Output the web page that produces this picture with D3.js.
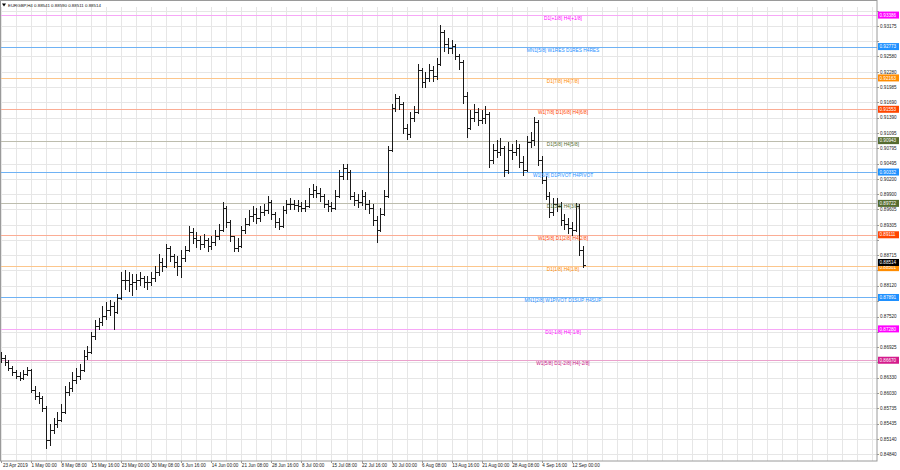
<!DOCTYPE html>
<html><head><meta charset="utf-8">
<script src="https://cdnjs.cloudflare.com/ajax/libs/d3/7.8.5/d3.min.js"></script>
<style>
html,body{margin:0;padding:0;background:#fff;}
svg{display:block;font-family:"Liberation Sans",Arial,sans-serif;}
</style></head>
<body><svg id="c" width="900" height="470"></svg>
<script>
// ---- data ----
const symbolTitle = "EURGBP,H4";
const lastOHLC = ["0.88541","0.88590","0.88511","0.88514"];
const firstOpen = 0.86750;
const closes = [0.86711,0.86634,0.86517,0.86439,0.86361,0.86322,0.86400,0.86478,0.86089,0.85972,
0.85933,0.85738,0.85116,0.85310,0.85427,0.85505,0.85661,0.86050,0.86128,0.86283,
0.86361,0.86478,0.86750,0.86828,0.87139,0.87334,0.87412,0.87529,0.87645,0.87723,
0.87607,0.87879,0.88229,0.88229,0.88151,0.88190,0.88229,0.88268,0.88190,0.88190,
0.88268,0.88385,0.88580,0.88502,0.88852,0.88696,0.88580,0.88502,0.88657,0.88813,
0.89163,0.89047,0.89008,0.88930,0.89008,0.88891,0.88969,0.89085,0.89202,0.89630,
0.89358,0.89085,0.88852,0.88891,0.89202,0.89319,0.89475,0.89514,0.89436,0.89553,
0.89591,0.89747,0.89514,0.89358,0.89280,0.89591,0.89708,0.89708,0.89689,0.89669,
0.89630,0.89669,0.89903,0.89981,0.89922,0.89864,0.89708,0.89669,0.89630,0.89864,
0.90253,0.90409,0.90331,0.89864,0.89786,0.89747,0.89864,0.89708,0.89630,0.89397,
0.89202,0.89514,0.89864,0.90759,0.91576,0.91771,0.91654,0.91187,0.91070,0.91382,
0.91499,0.92316,0.92082,0.92160,0.92316,0.92199,0.92433,0.93055,0.92822,0.92744,
0.92783,0.92588,0.92472,0.91810,0.91187,0.91382,0.91499,0.91343,0.91382,0.91460,
0.90564,0.90759,0.90720,0.90798,0.90370,0.90759,0.90720,0.90798,0.90526,0.90370,
0.90915,0.90954,0.91304,0.90564,0.90175,0.89864,0.89553,0.89708,0.89669,0.89397,
0.89319,0.89241,0.89202,0.89669,0.88813,0.88514];
const highs = [0.86828,0.86770,0.86672,0.86556,0.86478,0.86439,0.86478,0.86536,0.86497,0.86166,
0.86050,0.85972,0.85777,0.85427,0.85544,0.85661,0.85816,0.86166,0.86244,0.86439,
0.86517,0.86595,0.86867,0.86945,0.87217,0.87451,0.87490,0.87723,0.87801,0.87840,
0.87801,0.87957,0.88385,0.88424,0.88385,0.88346,0.88346,0.88385,0.88307,0.88307,
0.88385,0.88502,0.88735,0.88657,0.88930,0.88891,0.88735,0.88696,0.88813,0.88891,
0.89280,0.89241,0.89163,0.89085,0.89124,0.89047,0.89085,0.89202,0.89319,0.89747,
0.89669,0.89397,0.89085,0.89047,0.89280,0.89436,0.89591,0.89669,0.89630,0.89669,
0.89708,0.89864,0.89786,0.89553,0.89436,0.89669,0.89786,0.89825,0.89786,0.89786,
0.89747,0.89786,0.90020,0.90097,0.90058,0.90020,0.89903,0.89786,0.89747,0.89981,
0.90370,0.90487,0.90487,0.90370,0.89942,0.89903,0.89981,0.89942,0.89786,0.89708,
0.89475,0.89630,0.89981,0.90837,0.91654,0.91849,0.91810,0.91693,0.91265,0.91499,
0.91615,0.92433,0.92355,0.92277,0.92433,0.92394,0.92549,0.93192,0.93094,0.92939,
0.92900,0.92822,0.92627,0.92510,0.91888,0.91537,0.91654,0.91576,0.91537,0.91615,
0.91499,0.90876,0.90954,0.90993,0.90837,0.90915,0.90876,0.90954,0.90876,0.90642,
0.91031,0.91109,0.91401,0.91343,0.90642,0.90253,0.89942,0.89825,0.89825,0.89747,
0.89514,0.89436,0.89358,0.89728,0.89708,0.88891];
const lows = [0.86614,0.86556,0.86458,0.86361,0.86303,0.86264,0.86283,0.86361,0.86030,0.85894,
0.85816,0.85661,0.84941,0.84999,0.85232,0.85349,0.85466,0.85622,0.85972,0.86050,
0.86205,0.86283,0.86439,0.86672,0.86789,0.87062,0.87256,0.87334,0.87451,0.87529,
0.87256,0.87568,0.87840,0.88035,0.87996,0.87918,0.88035,0.88112,0.88074,0.88035,
0.88112,0.88190,0.88307,0.88385,0.88463,0.88580,0.88463,0.88307,0.88268,0.88580,
0.88774,0.88930,0.88852,0.88813,0.88852,0.88774,0.88813,0.88891,0.89008,0.89163,
0.89241,0.88969,0.88774,0.88774,0.88852,0.89124,0.89280,0.89358,0.89319,0.89358,
0.89475,0.89514,0.89397,0.89241,0.89202,0.89241,0.89514,0.89591,0.89591,0.89553,
0.89553,0.89553,0.89630,0.89825,0.89825,0.89747,0.89630,0.89553,0.89553,0.89591,
0.89825,0.90175,0.90175,0.89786,0.89669,0.89630,0.89669,0.89591,0.89514,0.89280,
0.88949,0.89163,0.89475,0.89825,0.90720,0.91499,0.91537,0.91070,0.90954,0.90993,
0.91304,0.91460,0.91966,0.91966,0.92082,0.92082,0.92121,0.92394,0.92666,0.92627,
0.92627,0.92510,0.92316,0.91654,0.90993,0.91148,0.91304,0.91226,0.91265,0.91265,
0.90409,0.90487,0.90603,0.90642,0.90234,0.90292,0.90564,0.90642,0.90409,0.90253,
0.90331,0.90798,0.90837,0.90448,0.90097,0.89786,0.89436,0.89475,0.89553,0.89280,
0.89202,0.89124,0.89085,0.89163,0.88696,0.88463];

const priceTicks = ["0.93475","0.93175","0.92875","0.92580","0.92280","0.91985","0.91690","0.91390",
"0.91095","0.90795","0.90495","0.90200","0.89900","0.89605","0.89305","0.89010","0.88715","0.88420",
"0.88120","0.87820","0.87520","0.87225","0.86925","0.86630","0.86330","0.86030","0.85735","0.85435",
"0.85140","0.84840"];
const timeTickBars = [0,8,16,24,32,40,48,56,64,72,80,88,96,104,112,120,128,136,144,152];
const timeTickLabels = ["23 Apr 2019","1 May 00:00","8 May 08:00","15 May 16:00","23 May 00:00",
"30 May 08:00","6 Jun 16:00","14 Jun 00:00","21 Jun 08:00","28 Jun 16:00","8 Jul 00:00",
"15 Jul 08:00","22 Jul 16:00","30 Jul 00:00","6 Aug 08:00","13 Aug 16:00","21 Aug 00:00",
"28 Aug 08:00","4 Sep 16:00","12 Sep 00:00"];

const levelValues = [0.93386,0.92773,0.92163,0.91553,0.90943,0.90332,0.89722,0.89111,0.88501,0.87891,0.87280,0.86670];
const levelLabels = ["D1[+1/8] H4[+1/8]","MN1[5/8] W1RES D1RES H4RES","D1[7/8] H4[7/8]",
"W1[7/8] D1[6/8] H4[6/8]","D1[5/8] H4[5/8]","W1[6/8] D1PIVOT H4PIVOT","D1[3/8] H4[3/8]",
"W1[5/8] D1[2/8] H4[2/8]","D1[1/8] H4[1/8]","MN1[2/8] W1PIVOT D1SUP H4SUP","D1[-1/8] H4[-1/8]",
"W1[5/8] D1[-2/8] H4[-2/8]"];
const levelKinds = ["plus","pivot","o7","o6","o5","pivot","o5","o6","o7","pivot","plus","minus2"];
const lastPrice = 0.88514;

// ---- styles ----
const palette = {
  plus:  {line:"#f7a8f7", tag:"#ff00ff", text:"#ff00ff"},
  pivot: {line:"#6fb2f4", tag:"#1e90ff", text:"#1e90ff"},
  o7:    {line:"#fcc68c", tag:"#ff8c00", text:"#ff8c00"},
  o6:    {line:"#fbad95", tag:"#ff4500", text:"#ff4500"},
  o5:    {line:"#bdbdae", tag:"#556b2f", text:"#556b2f"},
  minus2:{line:"#eaa2cc", tag:"#d41b8c", text:"#c71585"}
};

const L = 0, T = 7, R = 877, B = 461;
const svg = d3.select("#c");

const y = d3.scaleLinear().domain([0.84840, 0.93475]).range([454.3, 10.5]);
const x = d3.scaleLinear().domain([0, 155]).range([0.95, 0.95 + 155 * 3.756]);

const bars = closes.map((c, i) => ({
  i, o: i === 0 ? firstOpen : closes[i - 1], h: highs[i], l: lows[i], c
}));

// grid
const g = svg.append("g");
const vGrid = d3.range(0, 236, 4).map(i => x(i)).filter(v => v < R);
g.selectAll("line.vg").data(vGrid).enter().append("line")
  .attr("x1", d => Math.round(d) + 0.5).attr("x2", d => Math.round(d) + 0.5)
  .attr("y1", T).attr("y2", B).attr("stroke", "#e6e6e6").attr("stroke-width", 1);
g.selectAll("line.hg").data(priceTicks).enter().append("line")
  .attr("x1", L).attr("x2", R)
  .attr("y1", d => Math.round(y(+d)) + 0.5).attr("y2", d => Math.round(y(+d)) + 0.5)
  .attr("stroke", "#e6e6e6").attr("stroke-width", 1);

// level lines
levelValues.forEach((v, k) => {
  const p = palette[levelKinds[k]];
  const yy = Math.round(y(v)) + 0.5;
  svg.append("line").attr("x1", L).attr("x2", R).attr("y1", yy).attr("y2", yy)
    .attr("stroke", p.line).attr("stroke-width", 1);
});

// bars (OHLC)
const bg = svg.append("g").attr("stroke", "#1a1a1a").attr("stroke-width", 1).attr("shape-rendering", "crispEdges");
bars.forEach(d => {
  const xx = Math.round(x(d.i)) + 0.5;
  bg.append("line").attr("x1", xx).attr("x2", xx).attr("y1", y(d.h)).attr("y2", y(d.l));
  bg.append("line").attr("x1", xx - 2).attr("x2", xx).attr("y1", Math.round(y(d.o)) + 0.5).attr("y2", Math.round(y(d.o)) + 0.5);
  bg.append("line").attr("x1", xx).attr("x2", xx + 2).attr("y1", Math.round(y(d.c)) + 0.5).attr("y2", Math.round(y(d.c)) + 0.5);
});

// level texts
levelValues.forEach((v, k) => {
  const p = palette[levelKinds[k]];
  svg.append("text").attr("x", 563).attr("y", y(v) + 5)
    .attr("text-anchor", "middle").attr("font-size", 4.8).attr("fill", p.text)
    .text(levelLabels[k]);
});

// frame
svg.append("rect").attr("x", L + 0.5).attr("y", 0.5).attr("width", R - L - 0.5).attr("height", B - 0.5)
  .attr("fill", "none").attr("stroke", "#9a9a9a").attr("stroke-width", 1);

// price axis labels (those hidden under a level tag are not drawn, as in the terminal)
const tagYs = levelValues.map(v => y(v)).concat([y(lastPrice) - 3]);
const visibleTicks = priceTicks.filter(t => tagYs.every(ty => Math.abs(ty - y(+t)) > 6));
svg.selectAll("text.py").data(visibleTicks).enter().append("text")
  .attr("x", 880).attr("y", d => y(+d) + 1.7)
  .attr("font-size", 4.6).attr("fill", "#222").text(d => d);
svg.selectAll("line.pt").data(priceTicks).enter().append("line")
  .attr("x1", R).attr("x2", R + 2).attr("y1", d => Math.round(y(+d)) + 0.5).attr("y2", d => Math.round(y(+d)) + 0.5)
  .attr("stroke", "#9a9a9a");

// level tags
levelValues.forEach((v, k) => {
  const p = palette[levelKinds[k]];
  const yy = y(v) + (k === 8 ? 1.5 : 0);
  svg.append("rect").attr("x", R + 1).attr("y", yy - 3.5).attr("width", 21).attr("height", 7).attr("fill", p.tag);
  svg.append("text").attr("x", R + 2.5).attr("y", yy + 1.7).attr("font-size", 4.6).attr("fill", "#fff").text(v.toFixed(5));
});
// current price tag
{
  const yy = y(lastPrice) - 3;
  svg.append("rect").attr("x", R + 1).attr("y", yy - 3.5).attr("width", 21).attr("height", 7).attr("fill", "#000");
  svg.append("text").attr("x", R + 2.5).attr("y", yy + 1.7).attr("font-size", 4.6).attr("fill", "#fff").text(lastPrice.toFixed(5));
}

// time axis
svg.selectAll("text.tx").data(timeTickBars).enter().append("text")
  .attr("x", (d, k) => x(d) + (k === 0 ? 2 : 0.5)).attr("y", 466.5)
  .attr("font-size", 4.6).attr("fill", "#222").text((d, k) => timeTickLabels[k]);
svg.selectAll("line.tt").data(timeTickBars).enter().append("line")
  .attr("x1", d => Math.round(x(d)) + 0.5).attr("x2", d => Math.round(x(d)) + 0.5)
  .attr("y1", B).attr("y2", B + 2).attr("stroke", "#9a9a9a");

// title
svg.append("path").attr("d", "M2,3.5 L6,3.5 L4,6.5 Z").attr("fill", "#000");
svg.append("text").attr("x", 8).attr("y", 7).attr("font-size", 4.4).attr("fill", "#111")
  .text(symbolTitle + " " + lastOHLC.join(" "));
</script></body></html>
